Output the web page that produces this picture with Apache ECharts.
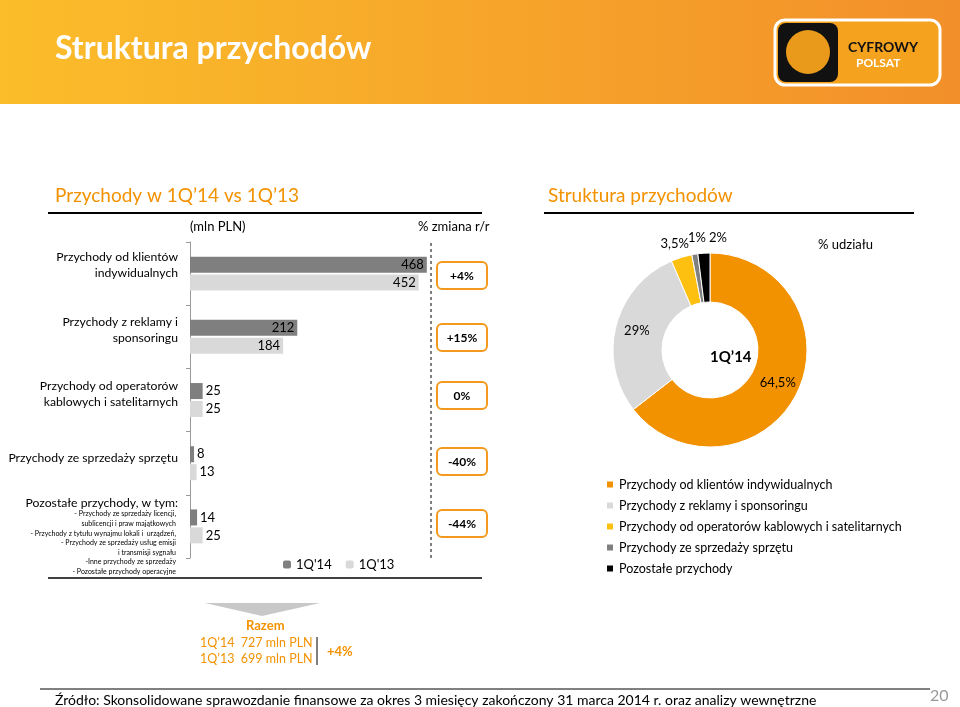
<!DOCTYPE html>
<html>
<head>
<meta charset="utf-8">
<script src="https://cdn.jsdelivr.net/npm/echarts@6/dist/echarts.min.js"></script>
<style>
  html, body { margin: 0; padding: 0; background: #fff; }
  #main { width: 960px; height: 707px; }
</style>
</head>
<body>
<div id="main"></div>
<script>
// dane
const categories = ['Klienci indywidualni', 'Reklama', 'Operatorzy', 'Sprzęt', 'Pozostałe'];
const q14 = [468, 212, 25, 8, 14];
const q13 = [452, 184, 25, 13, 25];
const changes = ['+4%', '+15%', '0%', '-40%', '-44%'];
const shareNames = ['Przychody od klientów indywidualnych', 'Przychody z reklamy i sponsoringu',
  'Przychody od operatorów kablowych i satelitarnych', 'Przychody ze sprzedaży sprzętu', 'Pozostałe przychody'];
const shareValues = [64.5, 29, 3.5, 1, 2];
const shareLabels = ['64,5%', '29%', '3,5%', '1%', '2%'];
const shareColors = ['#f39200', '#d9d9d9', '#fdc010', '#808080', '#000000'];

const FONT = 'Lato';
const chart = echarts.init(document.getElementById('main'));

const rowLabels = [
  'Przychody od klientów\nindywidualnych',
  'Przychody z reklamy i\nsponsoringu',
  'Przychody od operatorów\nkablowych i satelitarnych',
  'Przychody ze sprzedaży sprzętu'
];
const rowY = [265, 330, 394, 458];

const graphics = [
  { type: 'rect', shape: { x: 0, y: 0, width: 960, height: 104 },
    style: { fill: new echarts.graphic.LinearGradient(0, 0, 1, 0, [
      { offset: 0, color: '#fbbd2a' }, { offset: 1, color: '#f28f2a' }]) } },
  { type: 'text', left: 55, top: 33, style: { text: 'Struktura przychodów', fill: '#fff',
    font: 'bold 32px ' + FONT } },
  // logo
  { type: 'rect', shape: { x: 775, y: 20, width: 165, height: 65, r: 10 },
    style: { fill: '#f5a21f', stroke: '#fff', lineWidth: 3 } },
  { type: 'rect', shape: { x: 778, y: 23, width: 60, height: 59, r: 8 }, style: { fill: '#111' } },
  { type: 'circle', shape: { cx: 808, cy: 52, r: 22 }, style: { fill: '#e99a1a' } },
  { type: 'text', left: 848, top: 40, style: { text: 'CYFROWY', fill: '#111', font: 'bold 14px ' + FONT } },
  { type: 'text', left: 856, top: 57, style: { text: 'POLSAT', fill: '#fff', font: 'bold 12px ' + FONT } },
  // sekcje
  { type: 'text', left: 55, top: 186, style: { text: 'Przychody w 1Q’14 vs 1Q’13', fill: '#f39200', font: '19px ' + FONT } },
  { type: 'line', shape: { x1: 48, y1: 213, x2: 482, y2: 213 }, style: { stroke: '#000', lineWidth: 2 } },
  { type: 'line', shape: { x1: 48, y1: 578, x2: 482, y2: 578 }, style: { stroke: '#000', lineWidth: 1.5 } },
  { type: 'text', left: 190, top: 220, style: { text: '(mln PLN)', fill: '#000', font: '13px ' + FONT } },
  { type: 'text', left: 418, top: 220, style: { text: '% zmiana r/r', fill: '#000', font: '13px ' + FONT } },
  { type: 'line', shape: { x1: 431, y1: 243, x2: 431, y2: 558 }, style: { stroke: '#000', lineWidth: 1, lineDash: [3, 3] } },
  { type: 'text', left: 548, top: 186, style: { text: 'Struktura przychodów', fill: '#f39200', font: '19px ' + FONT } },
  { type: 'line', shape: { x1: 544, y1: 213, x2: 914, y2: 213 }, style: { stroke: '#000', lineWidth: 2 } },
  { type: 'text', left: 818, top: 238, style: { text: '% udziału', fill: '#000', font: '13px ' + FONT } },
  { type: 'text', left: 710, top: 350, style: { text: '1Q’14', fill: '#000', font: 'bold 15px ' + FONT, align: 'center', verticalAlign: 'middle' } },
  // etykiety malych wycinkow
  { type: 'text', x: 689, y: 244, style: { text: shareLabels[2], fill: '#000', font: '13px ' + FONT, align: 'right', verticalAlign: 'middle' } },
  { type: 'text', x: 688, y: 238, style: { text: shareLabels[3], fill: '#000', font: '13px ' + FONT, align: 'left', verticalAlign: 'middle' } },
  { type: 'text', x: 709, y: 238, style: { text: shareLabels[4], fill: '#000', font: '13px ' + FONT, align: 'left', verticalAlign: 'middle' } },
  // dol
  { type: 'polygon', shape: { points: [[205, 603], [320, 603], [262, 616]] }, style: { fill: '#c8c8c8' } },
  { type: 'text', left: 246, top: 619, style: { text: 'Razem', fill: '#f39200', font: 'bold 13px ' + FONT } },
  { type: 'text', left: 200, top: 636, style: { text: '1Q’14  727 mln PLN', fill: '#f39200', font: '12.5px ' + FONT } },
  { type: 'text', left: 200, top: 652, style: { text: '1Q’13  699 mln PLN', fill: '#f39200', font: '12.5px ' + FONT } },
  { type: 'line', shape: { x1: 317, y1: 637, x2: 317, y2: 665 }, style: { stroke: '#000', lineWidth: 1 } },
  { type: 'text', left: 327, top: 645, style: { text: '+4%', fill: '#f39200', font: 'bold 13px ' + FONT } },
  { type: 'line', shape: { x1: 40, y1: 689, x2: 930, y2: 689 }, style: { stroke: '#000', lineWidth: 1 } },
  { type: 'text', left: 55, top: 693, style: { text: 'Źródło: Skonsolidowane sprawozdanie finansowe za okres 3 miesięcy zakończony 31 marca 2014 r. oraz analizy wewnętrzne', fill: '#000', font: '14px ' + FONT } },
  { type: 'text', left: 930, top: 688, style: { text: '20', fill: '#999', font: '16px ' + FONT } }
];

rowLabels.forEach((t, i) => {
  graphics.push({ type: 'text', x: 178, y: rowY[i], style: { text: t, fill: '#000', font: '12.2px ' + FONT,
    align: 'right', verticalAlign: 'middle', lineHeight: 16 } });
});
graphics.push({ type: 'text', x: 178, y: 503, style: { text: 'Pozostałe przychody, w tym:', fill: '#000',
  font: '12.2px ' + FONT, align: 'right', verticalAlign: 'middle' } });
graphics.push({ type: 'text', x: 176, y: 543, style: {
  text: '- Przychody ze sprzedaży licencji,\nsublicencji i praw majątkowych\n- Przychody z tytułu wynajmu lokali i  urządzeń,\n- Przychody ze sprzedaży usług emisji\ni transmisji sygnału\n-Inne przychody ze sprzedaży\n- Pozostałe przychody operacyjne',
  fill: '#000', font: '7px ' + FONT, align: 'right', verticalAlign: 'middle', lineHeight: 9.6 } });

const boxY = [275, 337, 395, 461, 523];
changes.forEach((c, i) => {
  graphics.push({ type: 'rect', shape: { x: 437, y: boxY[i] - 13, width: 50, height: 27, r: 5 },
    style: { fill: '#fff', stroke: '#f39a1e', lineWidth: 2 } });
  graphics.push({ type: 'text', x: 462, y: boxY[i] + 1, style: { text: c, fill: '#000', font: 'bold 12px ' + FONT,
    align: 'center', verticalAlign: 'middle' } });
});

function barLabels(arr) {
  return arr.map(v => ({ value: v, label: { position: v > 100 ? 'insideRight' : 'right' } }));
}

chart.setOption({
  textStyle: { fontFamily: FONT },
  graphic: graphics,
  grid: { left: 190, top: 242, width: 253, height: 316 },
  xAxis: { type: 'value', min: 0, max: 500, show: false },
  yAxis: { type: 'category', data: categories, inverse: true,
    axisLine: { lineStyle: { color: '#999' } },
    axisTick: { show: true, length: 4, lineStyle: { color: '#999' } },
    axisLabel: { show: false } },
  legend: [{
    data: ['1Q\'14', '1Q\'13'], left: 278, top: 553, itemWidth: 8, itemHeight: 8, itemGap: 14,
    textStyle: { fontSize: 13, color: '#000', fontFamily: FONT }
  }, {
    data: shareNames, orient: 'vertical', left: 600, top: 473, itemWidth: 8, itemHeight: 8, itemGap: 8,
    icon: 'rect', textStyle: { fontSize: 12.5, color: '#000', fontFamily: FONT }
  }],
  series: [
    { name: '1Q\'14', type: 'bar', data: barLabels(q14), barWidth: 16, barGap: '12%',
      itemStyle: { color: '#7f7f7f' }, label: { show: true, color: '#000', fontSize: 13, distance: 3 } },
    { name: '1Q\'13', type: 'bar', data: barLabels(q13), barWidth: 16,
      itemStyle: { color: '#d9d9d9' }, label: { show: true, color: '#000', fontSize: 13, distance: 3 } },
    { name: 'udzial', type: 'pie', center: [710, 350], radius: [48, 97], startAngle: 90, clockwise: true,
      itemStyle: { borderColor: '#fff', borderWidth: 1 },
      labelLine: { show: false },
      data: shareValues.map((v, i) => ({
        name: shareNames[i], value: v, itemStyle: { color: shareColors[i] },
        label: { show: i < 2, formatter: shareLabels[i], color: '#000', fontSize: 13, position: 'inside' }
      }))
    }
  ]
});
</script>
</body>
</html>
